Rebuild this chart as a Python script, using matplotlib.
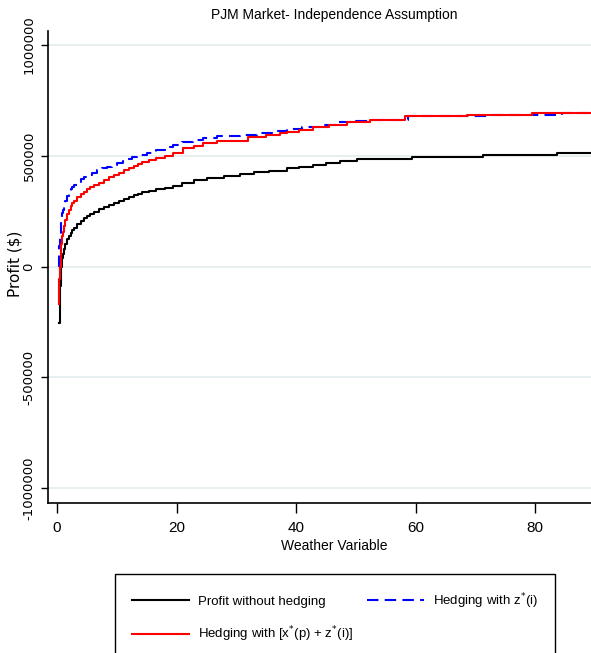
import matplotlib
matplotlib.use("Agg")
import matplotlib.pyplot as plt
from matplotlib.ticker import FixedLocator, FuncFormatter

plt.rcParams["axes.unicode_minus"] = False
SANS = ["Liberation Sans", "DejaVu Sans"]

# Profit (in $) as a step function of the weather variable
weather_base = [0.35, 0.45, 0.62, 0.72, 0.89, 1.0, 1.17, 1.4, 1.73, 2.0, 2.29,
                2.55, 2.85, 3.4, 3.96, 4.5, 5.08, 5.6, 6.19, 7.0, 7.87, 8.7,
                9.54, 10.4, 11.2, 12.0, 12.9, 13.6, 14.3, 15.4, 16.5, 18.0, 19.4,
                21.0, 23.0, 25.1, 28.0, 30.6, 33.0, 35.5, 38.5, 40.5, 42.8, 45.0,
                47.3, 50.2, 59.4, 71.2, 83.6, 94.0]
profit_base = [-253000, -87000, -12000, 0, 40000, 58000, 78000, 100000, 123000,
               139000, 153000, 164000, 175000, 191000, 205000, 217000, 228000,
               237000, 246000, 258000, 268000, 278000, 287000, 296000, 305000,
               313000, 321000, 328000, 335000, 342000, 348000, 356000, 363000,
               375000, 388000, 399000, 408000, 417000, 425000, 433000, 444000,
               450000, 457000, 467000, 477000, 484000, 492000, 501000, 511000,
               511000]

weather_xz = [0.33, 0.40, 0.50, 0.62, 0.75, 0.89, 1.0, 1.17, 1.4, 1.73, 2.0,
              2.29, 2.55, 2.85, 3.4, 3.96, 4.5, 5.08, 5.6, 6.19, 7.0, 7.87, 8.7,
              9.54, 10.4, 11.2, 12.0, 12.9, 13.6, 14.3, 15.4, 16.5, 18.0, 19.4,
              21.1, 23.0, 24.5, 26.8, 31.9, 35.0, 37.3, 38.5, 40.5, 42.8, 45.5,
              48.5, 52.3, 58.2, 68.6, 79.4, 94.0]
profit_xz = [-170000, -57000, 0, 63000, 100000, 138000, 155000, 183000, 208000,
             236000, 255000, 274000, 285000, 296000, 312000, 327000, 338000,
             349000, 357000, 366000, 378000, 390000, 402000, 413000, 424000,
             435000, 445000, 455000, 464000, 472000, 480000, 488000, 500000,
             510000, 533000, 545000, 555000, 566000, 584000, 595000, 600000,
             607000, 617000, 629000, 640000, 652000, 662000, 677000, 685000,
             692000, 692000]

weather_z = [0.33, 0.36, 0.50, 0.62, 0.75, 0.89, 1.0, 1.17, 1.4, 1.73, 2.0,
             2.29, 2.55, 2.85, 3.4, 3.96, 4.5, 5.08, 5.9, 6.75, 7.6, 8.4, 9.2,
             10.1, 11.0, 11.8, 12.6, 13.4, 15.0, 16.5, 18.0, 19.4, 21.0, 22.7,
             24.5, 26.8, 30.6, 33.4, 36.0, 38.5, 41.0, 44.0, 47.0, 50.0, 52.3,
             58.8, 72.0, 84.5, 94.0]
profit_z = [0, 92000, 145000, 178000, 212000, 240000, 256000, 276000, 297000,
            320000, 335000, 349000, 359000, 368000, 382000, 394000, 404000,
            413000, 424000, 434000, 443000, 451000, 458000, 466000, 475000,
            483000, 492000, 501000, 512000, 525000, 537000, 547000, 560000,
            572000, 580000, 589000, 595000, 602000, 612000, 622000, 630000,
            640000, 650000, 658000, 662000, 677000, 685000, 692000, 692000]

y_ticks = [-1000000, -500000, 0, 500000, 1000000]
x_ticks = [0, 20, 40, 60, 80]

W, H = 591, 653
fig = plt.figure(figsize=(W / 100, H / 100), dpi=100)
ax = fig.add_axes([48 / W, (H - 503) / H, (620 - 48) / W, (503 - 31) / H])

line_base, = ax.step(weather_base, profit_base, where="post", color="black",
                     lw=1.5, zorder=3)
line_z, = ax.step(weather_z, profit_z, where="post", color="#0000ff", lw=1.5,
                  dashes=(5.5, 3.0), zorder=4)
line_xz, = ax.step(weather_xz, profit_xz, where="post", color="#ff0000",
                   lw=1.5, zorder=5)

ax.set_xlim(-1.5, 94.2)
ax.set_ylim(-1066000, 1062000)

ax.yaxis.set_major_locator(FixedLocator(y_ticks))
ax.xaxis.set_major_locator(FixedLocator(x_ticks))
ax.yaxis.set_major_formatter(FuncFormatter(lambda v, p: "%d" % v))
ax.grid(axis="y", color="#e6eef0", lw=1.3, zorder=0)

for side in ("top", "right"):
    ax.spines[side].set_visible(False)
for side in ("left", "bottom"):
    ax.spines[side].set_linewidth(1.2)

ax.tick_params(axis="x", length=7, width=1, pad=6, labelsize=11)
ax.tick_params(axis="y", length=5, width=1, pad=4, labelsize=9.5)
for lab in ax.get_xticklabels():
    lab.set_family(SANS)
for lab in ax.get_yticklabels():
    lab.set_rotation(90)
    lab.set_va("center")
    lab.set_family("DejaVu Sans")

ax.set_xlabel("Weather Variable", family=SANS, fontsize=10, labelpad=3)
ax.set_ylabel("Profit ($)", family="DejaVu Sans", fontsize=11)
ax.yaxis.set_label_coords((23 - 48) / 572, (503 - 264) / 472)
ax.set_title("PJM Market- Independence Assumption", family=SANS,
             fontsize=10, pad=9)

leg = fig.legend(
    [line_base, line_xz, line_z],
    ["Profit without hedging",
     "Hedging with [x$^{*}$(p) + z$^{*}$(i)]",
     "Hedging with z$^{*}$(i)"],
    ncol=2, loc="upper left",
    bbox_to_anchor=(115 / W, 1 - 574 / H, 440 / W, 0.0),
    mode="expand", prop={"family": SANS, "size": 9.5},
    frameon=True, fancybox=False, edgecolor="black", framealpha=1,
    handlelength=4.3, handletextpad=0.7, labelspacing=1.25, borderpad=1.3,
    borderaxespad=0.0,
)
leg.get_frame().set_linewidth(1.0)

fig.savefig("out.png", dpi=100)
